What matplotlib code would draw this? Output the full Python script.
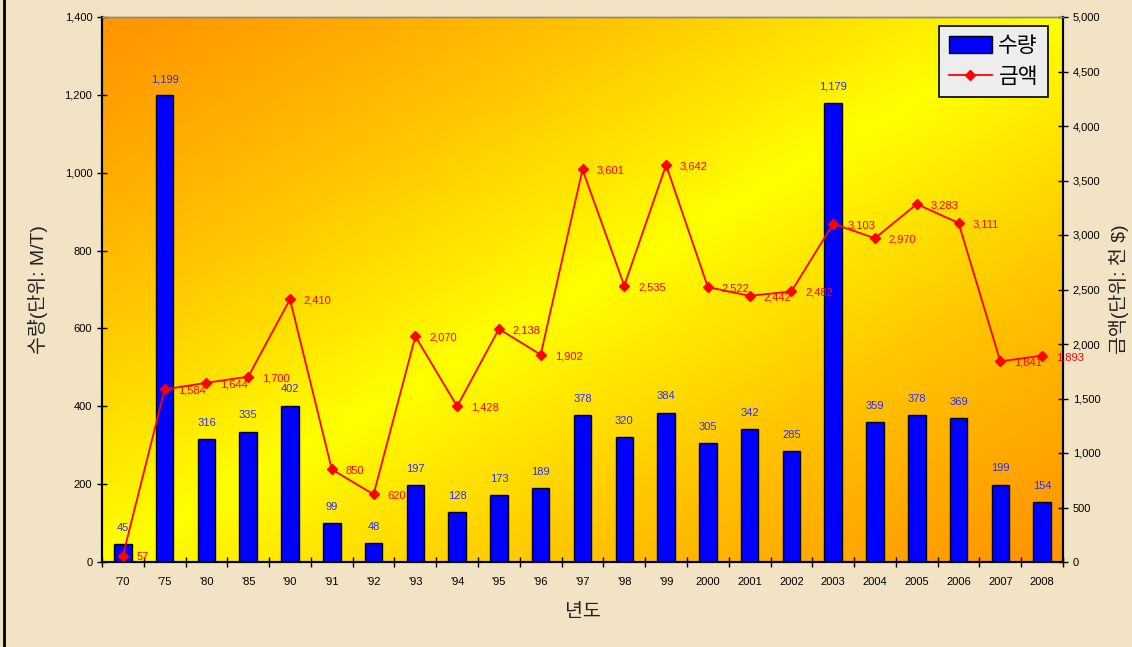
import numpy as np
import matplotlib
matplotlib.use("Agg")
import matplotlib.pyplot as plt
from matplotlib.colors import LinearSegmentedColormap
from matplotlib.lines import Line2D
from matplotlib.ticker import FuncFormatter, FixedLocator

plt.rcParams['font.family'] = ['Liberation Sans', 'Noto Sans CJK KR', 'DejaVu Sans']

years = ["'70", "'75", "'80", "'85", "'90", "'91", "'92", "'93", "'94", "'95", "'96",
         "'97", "'98", "'99", "2000", "2001", "2002", "2003", "2004", "2005", "2006",
         "2007", "2008"]
quantity = [45, 1199, 316, 335, 402, 99, 48, 197, 128, 173, 189, 378, 320, 384,
            305, 342, 285, 1179, 359, 378, 369, 199, 154]
amount = [57, 1584, 1644, 1700, 2410, 850, 620, 2070, 1428, 2138, 1902, 3601, 2535,
          3642, 2522, 2442, 2482, 3103, 2970, 3283, 3111, 1841, 1893]

fig = plt.figure(figsize=(11.32, 6.47), dpi=100)
fig.patch.set_facecolor('#F1E3C3')
ax = fig.add_axes([102/1132, 1-562/647, (1063-102)/1132, (562-17)/647])
ax2 = ax.twinx()
ax.set_zorder(1)
ax2.set_zorder(2)
ax2.patch.set_visible(False)

# gradient background
nx, ny = 300, 200
gx = np.linspace(0, 1, nx)
gy = np.linspace(1, 0, ny)
X, Y = np.meshgrid(gx, gy)
t = (X - Y + 1) / 2
v = 1 - np.abs(2 * t - 1)
cmap = LinearSegmentedColormap.from_list('g', ['#FF9500', '#FFC800', '#FFFF00'])
ax.imshow(v ** 1.2, cmap=cmap, extent=[0, 1, 0, 1], transform=ax.transAxes,
          aspect='auto', zorder=0, vmin=0, vmax=1)

x = np.arange(len(years))
bars = ax.bar(x, quantity, width=0.42, color='#0000FF', edgecolor='black',
              linewidth=1.0, zorder=2, label='수량')
for xi, q in zip(x, quantity):
    ax.annotate(f"{q:,}", (xi, q), xytext=(0, 8), textcoords='offset points',
                ha='center', va='bottom', fontsize=8, color='#2B2BFF')

ln, = ax2.plot(x, amount, color='#FF0000', linewidth=1.3, marker='D',
               markersize=5.5, zorder=3, label='금액')
for xi, a in zip(x, amount):
    ax2.annotate(f"{a:,}", (xi, a), xytext=(10, -1), textcoords='offset points',
                 ha='left', va='center', fontsize=8, color='#FF0000')

ax.set_xlim(-0.5, len(years) - 0.5)
ax.set_ylim(0, 1400)
ax2.set_ylim(0, 5000)
ax.set_yticks(np.arange(0, 1401, 200))
ax2.set_yticks(np.arange(0, 5001, 500))
fmt = FuncFormatter(lambda v, p: f"{int(v):,}")
ax.yaxis.set_major_formatter(fmt)
ax2.yaxis.set_major_formatter(fmt)

ax.xaxis.set_major_locator(FixedLocator(np.arange(-0.5, len(years), 1.0)))
ax.xaxis.set_minor_locator(FixedLocator(x))
ax.set_xticklabels([])
ax.set_xticklabels(years, minor=True)
ax.tick_params(axis='x', which='major', direction='inout', length=7, width=1)
ax.tick_params(axis='x', which='minor', length=0, pad=11, labelsize=8)
ax.tick_params(axis='y', direction='inout', length=7, width=1, labelsize=8)
ax2.tick_params(axis='y', direction='inout', length=7, width=1, labelsize=8)

for a in (ax, ax2):
    for s in ('left', 'bottom', 'right'):
        a.spines[s].set_color('black')
        a.spines[s].set_linewidth(1.5)
    a.spines['top'].set_color('#888888')
    a.spines['top'].set_linewidth(1.0)

ax.set_ylabel('수량(단위: M/T)', fontsize=14, color='#222222', labelpad=12)
ax2.set_ylabel('금액(단위: 천 $)', fontsize=14, color='#222222', rotation=90, labelpad=6)
ax.set_xlabel('년도', fontsize=14, color='#222222', labelpad=12)

leg = ax2.legend([bars, ln], ['수량', '금액'], loc='upper right',
                 bbox_to_anchor=(0.984, 0.983), borderaxespad=0, fontsize=15.5,
                 frameon=True, fancybox=False, edgecolor='black',
                 facecolor='#EDEDED', handlelength=2.0, borderpad=0.45,
                 labelspacing=0.45, handletextpad=0.3, handleheight=0.8)
leg.get_frame().set_linewidth(1.2)
leg.get_frame().set_alpha(1)

fig.add_artist(Line2D([4/1132, 4/1132], [0, 1], color='black', linewidth=2,
                      transform=fig.transFigure))

fig.savefig('out.png', dpi=100, facecolor=fig.get_facecolor())
